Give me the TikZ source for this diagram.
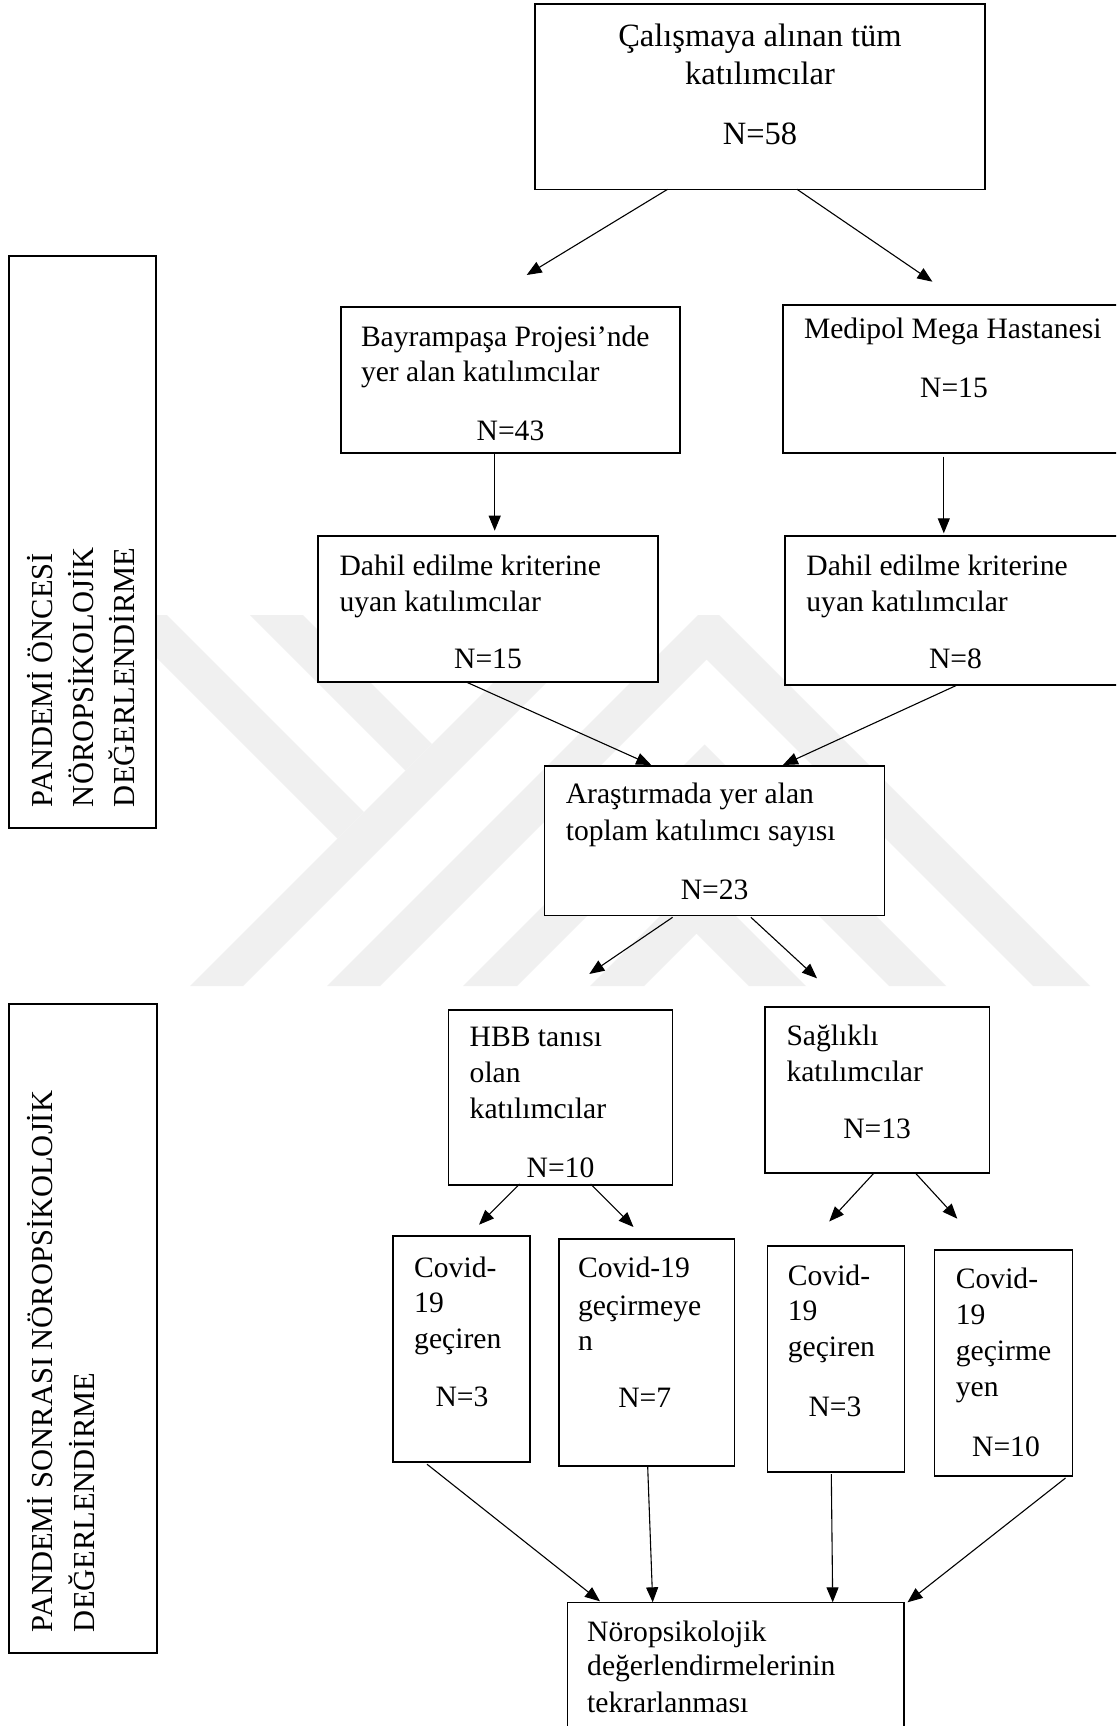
\documentclass[tikz,border=0pt]{standalone}
\usepackage{fontspec}
\setmainfont{Liberation Serif}
\usetikzlibrary{arrows.meta,calc}
\definecolor{wm}{RGB}{240,240,240}
\tikzset{
  box/.style={draw, line width=1.2pt, fill=white, inner sep=0pt, outer sep=0pt, anchor=north west},
  sidebox/.style={draw, line width=2pt, fill=white, inner sep=0pt, outer sep=0pt, anchor=north west},
  txt/.style={inner sep=0pt, outer sep=0pt, font=\fontsize{29.6}{35}\selectfont},
  bigtxt/.style={inner sep=0pt, outer sep=0pt, font=\fontsize{32.5}{38}\selectfont},
  sidetxt/.style={inner sep=0pt, outer sep=0pt, rotate=90, anchor=base west, font=\fontsize{30.5}{36}\selectfont},
  arr/.style={line width=1.1pt, -{Triangle[length=15pt,width=12pt]}},
  wmark/.style={fill=wm, draw=none}
}
\begin{document}
\begin{tikzpicture}[x=1pt,y=-1pt]
\useasboundingbox (0,0) rectangle (1116,1726);
\clip (0,0) rectangle (1116,1726);
\fill[white] (0,0) rectangle (1116,1726);

% watermark
\begin{scope}
\clip (0,615) rectangle (1116,986);
\fill[wmark] (114,615) -- (167,615) -- (364,812) -- (337.5,838.5) -- cycle;
\fill[wmark] (250,615) -- (303,615) -- (432,744) -- (405.5,770.5) -- cycle;
\fill[wmark] (190,986) -- (243,986) -- (614,615) -- (561,615) -- cycle;
\fill[wmark] (327,986) -- (380,986) -- (706.5,659.5) -- (1033,986) -- (1090,986) -- (708.5,604.5) -- cycle;
\fill[wmark] (463,986) -- (517,986) -- (703,800) -- (889,986) -- (946,986) -- (704.5,744.5) -- cycle;
\fill[wmark] (590,986) -- (644,986) -- (696.5,933.5) -- (749,986) -- (806,986) -- (698,878) -- cycle;
\end{scope}

% side boxes
\node[sidebox, minimum width=147pt, minimum height=572pt] (side1) at (9,256) {};
\node[sidebox, minimum width=148pt, minimum height=649pt] (side2) at (9,1004) {};
\node[sidetxt] (s1a) at (52,807) {PANDEMİ ÖNCESİ};
\node[sidetxt] (s1b) at (93,807) {NÖROPSİKOLOJİK};
\node[sidetxt] (s1c) at (134,807) {DEĞERLENDİRME};
\node[sidetxt] (s2a) at (52,1632) {PANDEMİ SONRASI NÖROPSİKOLOJİK};
\node[sidetxt] (s2b) at (94,1632) {DEĞERLENDİRME};

% boxes
\node[box, minimum width=450pt, minimum height=185.3pt] (top) at (535,4) {};
\node[box, minimum width=339pt, minimum height=146pt] (bayr) at (341,307) {};
\node[box, minimum width=342pt, minimum height=148pt] (medi) at (783,305) {};
\node[box, minimum width=340pt, minimum height=146pt] (dahilL) at (318,536) {};
\node[box, minimum width=341pt, minimum height=149pt] (dahilR) at (785,536) {};
\node[box, minimum width=340.2pt, minimum height=149.3pt] (arast) at (544.5,766) {};
\node[box, minimum width=224.2pt, minimum height=175pt] (hbb) at (448.4,1010) {};
\node[box, minimum width=224.3pt, minimum height=166pt] (sag) at (765,1007) {};
\node[box, minimum width=137pt, minimum height=226pt] (c1) at (393,1236) {};
\node[box, minimum width=175.5pt, minimum height=227pt] (c2) at (559,1239) {};
\node[box, minimum width=137.3pt, minimum height=226pt] (c3) at (767.3,1246) {};
\node[box, minimum width=138.1pt, minimum height=226pt] (c4) at (934.5,1250) {};
\node[box, minimum width=336.7pt, minimum height=140pt] (bot) at (567.3,1602.3) {};

% texts
\node[bigtxt, anchor=base] (t1a) at (760,46.5) {Çalışmaya alınan tüm};
\node[bigtxt, anchor=base] (t1b) at (760,85) {katılımcılar};
\node[bigtxt, anchor=base] (t1n) at (760,145) {N=58};

\node[txt, anchor=base west] (t2a) at (361,346.7) {Bayrampaşa Projesi’nde};
\node[txt, anchor=base west] (t2b) at (361,381.7) {yer alan katılımcılar};
\node[txt, anchor=base] (t2n) at (510.5,440) {N=43};

\node[txt, anchor=base west] (t3a) at (804,338.3) {Medipol Mega Hastanesi};
\node[txt, anchor=base] (t3n) at (954,397.3) {N=15};

\node[txt, anchor=base west] (t4a) at (339.5,575) {Dahil edilme kriterine};
\node[txt, anchor=base west] (t4b) at (339.5,611.7) {uyan katılımcılar};
\node[txt, anchor=base] (t4n) at (488,668.3) {N=15};

\node[txt, anchor=base west] (t5a) at (806.4,575) {Dahil edilme kriterine};
\node[txt, anchor=base west] (t5b) at (806.4,611.7) {uyan katılımcılar};
\node[txt, anchor=base] (t5n) at (955.5,668.3) {N=8};

\node[txt, anchor=base west] (t6a) at (565.8,803.3) {Araştırmada yer alan};
\node[txt, anchor=base west] (t6b) at (565.8,840) {toplam katılımcı sayısı};
\node[txt, anchor=base] (t6n) at (714.6,899.3) {N=23};

\node[txt, anchor=base west] (t7a) at (469.7,1046.3) {HBB tanısı};
\node[txt, anchor=base west] (t7b) at (469.7,1082.5) {olan};
\node[txt, anchor=base west] (t7c) at (469.7,1118.1) {katılımcılar};
\node[txt, anchor=base] (t7n) at (560.5,1177) {N=10};

\node[txt, anchor=base west] (t8a) at (786.5,1045) {Sağlıklı};
\node[txt, anchor=base west] (t8b) at (786.5,1081) {katılımcılar};
\node[txt, anchor=base] (t8n) at (877.2,1138) {N=13};

\node[txt, anchor=base west] (t9a) at (414.2,1277) {Covid-};
\node[txt, anchor=base west] (t9b) at (414.2,1312.7) {19};
\node[txt, anchor=base west] (t9c) at (414.2,1348.4) {geçiren};
\node[txt, anchor=base] (t9n) at (462,1406.8) {N=3};

\node[txt, anchor=base west] (t10a) at (578,1277) {Covid-19};
\node[txt, anchor=base west] (t10b) at (578,1315) {geçirmeye};
\node[txt, anchor=base west] (t10c) at (578,1350.7) {n};
\node[txt, anchor=base] (t10n) at (644.8,1407.7) {N=7};

\node[txt, anchor=base west] (t11a) at (787.9,1285) {Covid-};
\node[txt, anchor=base west] (t11b) at (787.9,1320.6) {19};
\node[txt, anchor=base west] (t11c) at (787.9,1356.7) {geçiren};
\node[txt, anchor=base] (t11n) at (835,1416) {N=3};

\node[txt, anchor=base west] (t12a) at (955.9,1288.2) {Covid-};
\node[txt, anchor=base west] (t12b) at (955.9,1324.3) {19};
\node[txt, anchor=base west] (t12c) at (955.9,1360) {geçirme};
\node[txt, anchor=base west] (t12d) at (955.9,1396.6) {yen};
\node[txt, anchor=base] (t12n) at (1006,1456.4) {N=10};

\node[txt, anchor=base west] (t13a) at (587.2,1641.7) {Nöropsikolojik};
\node[txt, anchor=base west] (t13b) at (587.2,1675.5) {değerlendirmelerinin};
\node[txt, anchor=base west] (t13c) at (587.2,1712) {tekrarlanması};

% connectors
\draw[arr] ($(top.south west)+(132.6,0)$) -- ($(bayr.north west)+(185.7,-32)$);
\draw[arr] ($(top.south west)+(262,0)$) -- ($(medi.north west)+(149.4,-23.3)$);
\draw[arr] ($(bayr.south west)+(153.7,0)$) -- ($(dahilL.north west)+(176.7,-5.3)$);
\draw[arr] ($(medi.south west)+(160.8,3.7)$) -- ($(dahilR.north west)+(158.8,-2.7)$);
\draw[arr] ($(dahilL.south west)+(148.2,0)$) -- ($(arast.north west)+(106.7,-1)$);
\draw[arr] ($(dahilR.south west)+(172.3,0)$) -- ($(arast.north west)+(238.4,-1)$);
\draw[arr] ($(arast.south west)+(128.1,2)$) -- ($(hbb.north west)+(140.9,-36)$);
\draw[arr] ($(arast.south west)+(206.4,2)$) -- ($(sag.north west)+(52,-28.7)$);
\draw[arr] ($(hbb.south west)+(71.2,-1)$) -- ($(c1.north west)+(86,-11.3)$);
\draw[arr] ($(hbb.south west)+(142.3,-1)$) -- ($(c2.north west)+(74.5,-12)$);
\draw[arr] ($(sag.south west)+(109,0)$) -- ($(c3.north west)+(61.9,-24.5)$);
\draw[arr] ($(sag.south west)+(151,0.7)$) -- ($(c4.north west)+(22.8,-31.3)$);
\draw[arr] ($(c1.south west)+(34,2.2)$) -- ($(bot.north west)+(32.7,-1)$);
\draw[arr] ($(c2.south west)+(88.7,1)$) -- ($(bot.north west)+(85.4,0)$);
\draw[arr] ($(c3.south west)+(64,2)$) -- ($(bot.north west)+(265.4,0)$);
\draw[arr] ($(c4.south west)+(131,2)$) -- ($(bot.north west)+(340.2,0)$);
\end{tikzpicture}
\end{document}
